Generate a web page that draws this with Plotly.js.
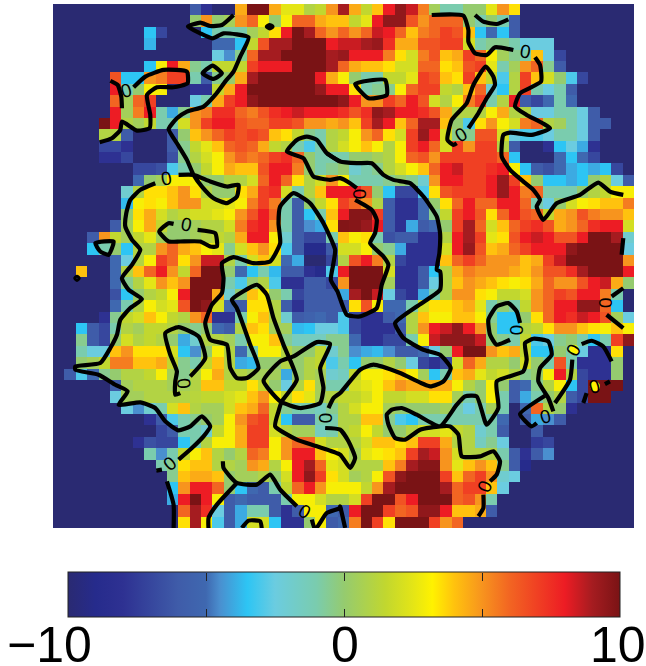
<!DOCTYPE html>
<html><head><meta charset="utf-8">
<script src="https://cdn.plot.ly/plotly-3.0.1.min.js"></script>
<style>html,body{margin:0;padding:0;background:#fff}#chart{width:646px;height:666px}</style>
</head><body><div id="chart"></div>
<script>
const N=-10, COLS=51;
const row=(start,vals)=>{const r=new Array(start).fill(N).concat(vals);while(r.length<COLS)r.push(N);return r;};
const r00=row(12,[-6,-8,N,N,4.5,10,10,4.5,2.5,2.5,1,1.5,5,9,4.5,1.5,4,8,9.5,8.5,5.5,.5,-1,-1,0,0,2.5,5,3.5]);
const r01=row(12,[0,5,0,.5,5,6,3,0,3,6,6,4.5,4,4,1.5,2.5,8,9.5,9.5,6.5,5,6,6,6,0,-1,0,-1,-6]);
const r02=row(8,[-3.5,-7,N,N,N,-3.5,-1,-1,-1,.5,1.5,3.5,8,10,9,6,5,6,5,6,8.5,8,6,4,5.5,6,7,6.5,4,-3.5,-5,-3.5,-6]);
const r03=row(8,[-3.8,N,N,N,N,N,-5,-5,-3.5,1.5,6.5,9,9,10,10,10,8,8.5,8.5,9,9.3,7.5,4.5,4.5,6.5,6.5,7,7,2,-1,-.5,-.5,-1,-2.5,-2.5,-2.5]);
const r04=row(14,[-2.5,-4.5,-.5,6,9,9,10,10,10,10,9,9.3,8,8,8,5.5,3.5,2,5.5,6.5,4,4.5,7,6,3,.5,-.5,-1,4,-2.5,-7]);
const r05=row(8,[-3.5,3,8,4.5,-.5,-1,1.5,1.5,1.5,7,8,8,8,10,10,10,9,6,4.5,4,4,3.5,2,2,6,6,3.5,4,6.5,7,2.5,-1,.5,5,6,-.5,-6]);
const r06=row(5,[6.5,-3.5,-3.5,5,5.5,7,7,-1,-6,-.5,0,4.5,9,10,10,10,10,10,8,4.5,3,0,-1,-1,1.5,1.5,2.5,7,6.5,4,3.5,7,4,1.5,-3,1,7,4,2,0,-3,-7]);
const r07=row(5,[8,-1,0,3,3,N,N,-8,-8,1.5,4.5,8,10,10,10,10,10,10,9.3,8,8,3.5,-1,-.5,-.5,3,6,7,7,1.5,1,4,6,-2,-3.5,1,7,-1,-2.5,-1,-6]);
const r08=row(5,[6,.5,6,7,N,N,N,-2.5,-1,4.5,7,8,9.5,10,10,10,10,10,10,10,9.5,8,5,5,7,6,8,6.5,2,1,3,5.5,7,-1,1,8,-6,-7,-5,-1,-5]);
const r09=row(5,[8,.5,5.5,8,-1,-4,-.5,5,5.5,7.5,7.5,6,5.5,6.5,7.5,8,8.5,8,8,8,7.5,6.5,7.5,9.5,9,8,8,7.5,6.5,4.5,1,1,1,3,4.5,1,1,-2.5,-2.5,-1,-1,-2.5,-6]);
const r10=row(4,[10,8,1,.5,1.5,-1,-1,2,5,7,8,8,6.5,6,6,7,7,6.5,5,5,4.5,5,4,7,9,8,4,6,9,9,4,0,-3,3.5,5,3,2,5.5,6,1,.5,-1,-2.5,-6,-6]);
const r11=row(4,[1,1,-6,N,N,N,-6,0,4,5,6,7,6.5,7,6.5,4,3.5,1.5,-.5,-1,1,1.5,3,5,6,3.5,2,7,9.3,8,2,-.5,-.5,6.5,6.5,2,-2.5,-3,-3,-2.5,-1,-1,-2.5,-6]);
const r12=row(4,[-7,-7,-8,N,N,N,-6,-.5,1.5,2.5,4,6,6.5,6,4.5,1.5,1,-1,-3,-1,1,2,3,4,3,1,3,7,8,6,2,7,5,7,7,1,-6,N,N,-8,-3.5,-2.5,-4,-8]);
const r13=row(4,[-8,-8,-7,N,N,N,-6.5,-.5,1,2,3,5,6,5.5,6,7,7.5,6,0,-1,-1,-1,0,0,.5,1,3,6,6.5,5,7,7,7,7,7,6,-3.5,N,N,N,-5,-3.5,-5,-7]);
const r14=row(7,[-7,-7,-6.5,-3,-1,0,1.5,3,4.5,4,4,6.5,8,8,5.5,0,-1,-.5,0,-2,-1,-.5,1,2,3,4,6,8,8.5,7,7,7.5,8,3,-3.5,-6,-6.5,-5,-4,-3.5,-4,-3.5,-7]);
const r15=row(7,[-5,0,.5,3,3,3,0,0,1,1,2,6,8,6,3.5,1,2,5,3,-1,-1,-1,-.5,0,-.5,-2,5,8,8,7,7,8,9.3,7,4,0,-3.5,-3.5,-4,-3.5,0,1,-2.5,-6]);
const r16=row(6,[-2,1,3.5,3.5,4,5,3.5,1,0,0,3.5,4.5,7,7.5,2,-1,1,4,8,8,8,6.5,0,-3.5,-7,-7,-3,3.5,6.5,7,7,7,8,9.3,8,5.5,6,-1,-1,-1,0,1,1.5,3,3]);
const r17=row(6,[-3.7,3,3.5,3,4,5,5,2,2,2.5,3,5.5,7,5.5,-1,-6,0,1.5,3.5,7,6,5,1,-6,-8,-8,-5,0,3.5,6,8,6,6,8,8,6,-1,-2.5,0,2,3,3.5,4,4,5.5]);
const r18=row(6,[0,3.5,4.5,2,1,1.5,2,2,2.5,3,5,6.5,8,6,-1,-6,-3.5,-1,4,8,9.7,9.7,7,-6,-8,-8,-5,-.5,1.5,7,8,6.5,3.5,6,8,6.5,6,1.5,4.5,5,6.5,5.5,5,5,4]);
const r19=row(5,[-6,.5,3,4.5,1.5,0,0,.5,1,1,2,5.5,7.5,8,5,-1,-6,-4.5,-4,3.5,9.8,9.7,9.3,8,-6,-8,-4,-6,-5,0,7,9,6,2,4,6,7,7.5,6.5,4.5,5,6,7.5,8,8,2]);
const r20=row(3,[-6,5,1.5,.5,1.5,2.5,.5,0,0,.5,1,1.5,1,4.5,8,8,3,-2,-6,-7,-7,-1,4,3,3.5,-1,-6.5,-6,-6,-8,-8,1,8,9,7,2.5,3.5,6.5,8,8.5,8,6.5,6.5,8,10,10,9,-2]);
const r21=row(3,[-3.5,-1,0,-3.5,1,1,5,6,4.5,4,3,2.5,-.5,2,4,5,3.5,-3,-6,-9,-9,-6,2,2,3,0,-.5,-4,-8,-8,-8,2,8,9.3,6.5,4,4.5,6,7,8,8,8,9.5,10,10,10,10,-2.5]);
const r22=row(5,[-5,-2.5,1,3,7,6,3.5,5,8.5,8.5,1,-1,2,4,2,-5,-4,N,N,-7,1,6.5,8,5.5,1,-7,-8,-8,-8,4,6,7,6,5,5,5,4,4.5,7,8.5,10,10,10,10,10,5]);
const r23=row(2,[4,N,N,-5,1,4,6,8,5,1.5,6,10,10,0,-5,-3.5,-1,-3.7,-6,-6,-8,-9,-3,8,10,10,10,2,-8,-8,-6,-3.5,1,4.5,5.5,5,5,5,4.5,4,5,6.5,6.5,7.5,9,10,10,10,8]);
const r24=row(5,[-5,-.5,1,2.5,5,4,5,10,10,10,-1,-3,0,1,-3,-8,-8,-6,-6,-7,5,10,10,10,.5,-8,-8,-6,-2.5,1,4,5,4.5,4,3.5,3,3.5,4.5,6,5,5,6.5,8,8.5,4.5,0]);
const r25=row(5,[-6.5,-3.5,0,1,1.5,3,8,10,10,4.5,-2,0,4,3,0,-1,-7,-6,-6,-6,-4,9,10,8.5,-2.5,-7,-8,-4,-1,1,5,5,3.5,3,1.5,1.5,2,5,6,7,6.5,8,8,5.5,-1]);
const r26=row(5,[-5,-1,1,3,2,2.5,6.5,10,9.5,2,-5,-6,3.5,3.5,1,-6,-8,-6,-6,-6,-6,3.5,6.5,3,-5,-5,-1,2,3.5,3.5,4,4.5,2.5,-1,0,-1,1.5,5,6,8,8,9.5,9.5,6,-3.5]);
const r27=row(4,[-8,-.5,1.5,2,4,3,1.5,1,5,6,-8,-8,-1,3,4,1,-2,-6,-5.5,-5,-6,-3,-7,-8,-8,-6,-5,1,4,3,3,4,4,3,-.5,-3.5,-3.5,0,3.5,6,8,7.5,8.5,8,6.5,.5,-2.5]);
const r28=row(2,[-3.5,-6,-7,-1,1,.5,1.5,1.5,1,0,-.5,0,-5,-6,1,4,3.5,.5,.5,-3.7,-3.5,-2.5,-2.5,-3,-7,-8,-8,-8,-6,1,5,8,8.5,9.5,8,5,0,-3.5,-3.5,1,1.5,3.5,5,5,4,3.5,3,4,3]);
const r29=row(2,[-.5,-6,-7,0,2,1,1.5,1,0,-4,-2,1,1,.5,-1,3,3,4,-.5,-1.5,-1.5,-1.5,-.5,-.5,-5,-8,-8,-7,-7,-1,3,8.5,9.5,9.5,9.5,8.5,0,-.5,-1,1.5,-3,-2.5,-.5,0,-1,-3.5,-1,7,9.5]);
const r30=row(2,[-1,-2.5,-2.5,4,5,3.5,3.5,3.5,2,-3.5,-4.5,0,3,1,-5,-1,3,3,1,0,0,1.5,-2,-.5,-4.5,-4,-3.7,-4.5,-6,-6,-5,-2.5,0,8,10,10,5,4,4.5,1.5,-3.5,-3.5,0,-1,-2.5,-8,-8,3.5]);
const r31=row(2,[0,.5,1.5,5.5,5.5,4,4,4.5,1.5,-.5,-1,1.5,4,1,-4,-3.7,0,0,1,0,1,1.5,-3,-1,-3.5,0,0,1,0,-2.5,-7,-8,-7,2,6,4.5,1,1,0,2,0,-1,6.5,-1,-8,-8,-8,0]);
const r32=row(1,[-6,-3,-5,-.5,0,1,1,1.5,3,.5,-.5,1,3,4.5,1,1,.5,.5,.5,-4,0,1,.5,-2,-1.5,1.5,3,3,3.5,4,3,.5,-3.5,-1,4,4.5,2.5,1.5,2,1,-.5,0,3,8,1,-7,-8,-8,0]);
const r33=row(5,[-6,.5,1,1,1,.5,.5,1,4,4,1.5,1.5,3.5,1.5,0,-2.5,1,3.5,.5,-1,-1,2,2.5,3,4,5,4.5,4.5,4.5,4.5,3,1,0,3,0,-6,-5,-.5,1,3,-3.5,-7,10,10,10]);
const r34=row(5,[-2.5,.5,.5,1,1,1,1,1.2,1.5,1.5,2,2.5,4,5,3,1.5,3.5,2.5,.5,1,1.5,1.5,2,3,1.5,1.5,2,2,3.5,3.5,.5,-1,0,3,-1,-6,-4,-1,0,1,-6,-7,10,10]);
const r35=row(6,[-2.5,-4.5,-2,-1,2,4,1,.5,.5,2,4,4.5,6,1.5,-.5,-1,-1,-1.5,-.5,1,2,3,3,.5,0,0,0,0,.5,-1,-2.5,-1,.5,-1,N,-5,6,1,0,-8]);
const r36=row(8,[-8,-6,-3,-1,-.5,0,.5,3,5,6.5,7,1.5,-3.5,-6,-6,-1,-1,1,1,4,4,-.5,-3,-3.5,-1,-1,-1,-1,-1,-1,-1,-5,N,-6,-4,-4.5,-6]);
const r37=row(9,[-7,-6,-1,-1,-2,1.5,3,4.5,7,7,2,1,.5,.5,-1.5,-1,1,1.5,3,1.5,0,0,1,2,2,2.5,1.5,1,-2,-1,-6,N,N,-6]);
const r38=row(7,[-8,-6.5,-7,-7,-3.5,-1,1,3,3,4.5,7,7,3,5,6,6,2,1,1,1,2,4,4,3.5,4,7,7,4.5,1,1,-1.5,-.5,-2.5,N,N,-7.5,-7]);
const r39=row(8,[-1,-4.5,-1,1.5,3,4,1,0,1,6,5.5,3,5,8,8,4,3,2,.5,2.5,3,3.5,4,7,9,8.5,5,2,1,1,1,-1,-6,-8,-6,-4.5]);
const r40=row(9,[-1,-.5,3.5,4,4,1,1,.5,5,4.5,1,3,8,9,6,2.5,2,1,1,1,4,5.5,9,9.7,9.7,5,2.5,4,5,4,-.5,-6,-9]);
const r41=row(10,[-.5,4,4.5,4.5,4,0,.5,.5,1,0,2,8,9.5,7,3.5,2,.5,1,3,6.5,9.5,10,10,10,7,4,6,7,5,-2,-2.5]);
const r42=row(10,[-3.5,5,8,8,6,0,-3.5,-5,-6,-1,1.5,6,8,5,3,3,3,1.5,5,9,10,10,10,10,9,6,7,7,4,-2.5]);
const r43=row(10,[-4,8,10,8,3,-6,-5,-6,-6,-6,-1,3,3,2,1,1,2,7,10,10,6.5,8,10,10,10,6,6.5,5,-1]);
const r44=row(11,[6,9,7.5,-2.5,-6,-4,-1,-1,-6,-8,-6,3,3,-5,-6,8,10,10,7,6,6.5,9.5,9.5,8,4,4,4.5,-6]);
const r45=row(11,[3.5,9,3,-3,-6,-4,2,2,-3.5,-8,-8,0,3,-6,-5,5.5,10,7,3.5,10,10,10,7,5,6]);
const zValues=[r00,r01,r02,r03,r04,r05,r06,r07,r08,r09,r10,r11,r12,r13,r14,r15,r16,r17,r18,r19,r20,r21,r22,r23,r24,r25,r26,r27,r28,r29,r30,r31,r32,r33,r34,r35,r36,r37,r38,r39,r40,r41,r42,r43,r44,r45];

// map readings taken quadrant by quadrant onto cell indices
const C=34.2, quad=(ox,oy)=>pts=>pts.map(([a,b])=>[(a+ox)/C-.5,(b+oy)/C-.5]);
const TL=quad(-38,-12),TR=quad(862,-12),BL=quad(-38,783),BR=quad(862,783);

const contourLines=[
 TL([[580,45],[545,75],[510,78],[480,68],[443,80],[480,100],[517,115],[550,100],[625,112],[600,170],[580,215],[555,245],[525,285],[490,320],[440,335],[410,355],[385,388],[410,430],[440,480],[460,525],[485,560],[520,595],[560,610],[590,590],[595,555],[560,560],[510,545],[460,525],[415,525]]),
 [...TL([[345,550],[300,570],[270,600],[258,640],[255,680],[275,720],[300,750],[275,795]]),...BL([[245,40],[265,75],[305,103],[270,130],[240,165],[230,210],[210,250],[180,295],[105,305],[105,315],[175,330],[225,360],[262,380],[235,420],[300,413],[345,430],[375,470],[415,497],[450,485],[485,455],[510,485],[490,515],[455,550],[415,585]])],
 BL([[365,615],[348,618]]),
 BL([[380,650],[400,720],[400,795]]),
 TL([[210,243],[232,255],[243,290],[245,325]]),
 TL([[280,262],[315,230],[370,210],[440,215],[442,250],[400,262],[350,262],[320,285],[330,345],[328,385],[290,392],[245,365],[240,390],[215,415],[178,427]]),
 TL([[487,220],[517,197],[545,220],[520,237],[487,220]]),
 TL([[680,80],[688,75],[697,80],[688,85],[680,80]]),
 TL([[165,730],[220,725],[205,765],[180,755],[165,730]]),
 TL([[400,672],[385,670],[357,695],[385,725],[420,725],[480,725],[510,740],[530,740],[525,700],[472,690]]),
 [...TL([[900,485],[860,460],[830,420],[800,410],[770,420],[740,455],[790,475],[820,530],[870,540]]),...TR([[0,535],[30,550],[50,565]])],
 [...TL([[860,460],[900,485]]),...TR([[50,490],[95,490],[130,525],[160,540],[210,550],[250,590],[290,650],[300,700],[298,760],[290,810]]),...BR([[300,20],[300,75],[230,125],[165,175],[190,220],[250,255],[300,270],[332,310],[310,350],[270,365],[180,325],[100,300],[60,315],[0,385]]),...BL([[880,400],[865,430]])],
 [...BL([[855,490],[900,495]]),...BR([[25,530],[45,580],[30,610],[0,570]]),...BL([[830,545],[770,525],[705,485],[715,440],[725,410],[770,345],[730,240],[700,160],[680,90],[650,60],[575,105],[590,130],[630,240],[655,310],[620,340],[590,340],[570,310],[560,240],[510,225],[495,175],[515,120],[545,85],[550,40]]),...TL([[545,790],[580,772],[640,790],[690,785],[720,730],[715,670],[720,620],[760,580],[810,610],[850,670],[885,750],[880,790]]),...BL([[872,45],[892,80]]),...BR([[20,150],[60,155],[110,130],[125,60],[145,0]]),...TR([[130,770],[90,730],[105,700],[110,660],[95,630],[45,600]])],
 BL([[670,348],[720,290],[760,275],[830,232],[870,238],[840,310],[850,370],[840,415],[780,430],[720,410],[670,348]]),
 BL([[450,335],[495,280],[475,215],[415,187],[375,205],[390,270],[410,320],[405,350],[405,390],[420,385]]),
 BL([[548,590],[550,610],[590,655],[650,660],[690,630],[720,675],[770,725]]),
 [...BL([[815,765],[825,795],[860,745],[900,730]]),...BR([[0,725],[15,790]])],
 BL([[590,655],[530,720],[505,760],[505,795]]),
 BL([[605,790],[625,768],[660,770],[665,795]]),
 BL([[105,40],[110,36],[115,40],[110,45],[105,40]]),
 BR([[450,650],[470,630],[480,590],[460,560],[420,575],[365,575],[355,510],[330,485],[300,485],[240,495],[195,525],[165,520],[145,480],[140,450],[155,435],[185,430],[230,450],[300,485],[350,420],[375,395],[410,395],[440,480],[475,430],[470,350],[550,320],[560,285],[555,235],[580,222],[625,230],[635,270],[600,310],[595,350],[625,400],[640,440]]),
 BR([[430,690],[430,730],[415,755]]),
 BR([[645,415],[690,345],[697,285]]),
 BR([[615,393],[540,448],[575,485],[590,475]]),
 BR([[725,238],[755,228],[790,245],[815,290]]),
 BR([[810,350],[795,358]]),
 BR([[740,385],[730,415]]),
 BR([[850,70],[815,95]]),
 BR([[800,150],[850,190]]),
 BR([[510,225],[470,240],[450,210],[445,165],[470,125],[505,115],[530,140],[540,175]]),
 TR([[275,45],[370,47],[385,90],[385,125],[405,160],[440,165],[465,142],[520,150]]),
 TR([[585,172],[600,195],[603,245],[540,280],[525,320],[560,345],[630,385],[575,405],[510,398],[490,405],[485,470],[510,510],[550,545],[580,570],[600,600],[590,620],[610,660],[650,610],[720,585],[775,548],[810,575],[850,585]]),
 TR([[405,45],[430,65],[470,72],[505,58]]),
 TR([[385,385],[415,340],[440,295],[465,255],[460,230],[437,200],[400,255],[380,310],[335,360],[322,420],[340,435],[350,430]]),
 TR([[45,252],[135,240],[140,285],[85,295],[45,252]]),
 TR([[850,715],[845,765]])
];

const labelPoints=[...TL([[258,272],[378,537],[438,675]]),...TR([[555,155],[365,405],[57,582]]),...BL([[430,357],[390,598],[857,462],[792,742]]),...BR([[530,197],[435,667],[617,455],[702,255],[765,365],[797,115]])];
const labelAngles=[-15,-10,10,10,-30,90,85,-40,90,30,90,-65,-15,-60,-15,90];
const yellowLabelSpots=BR([[702,255],[765,365]]);

const colorStops=[[-10,'#2a2a72'],[-9,'#262b8c'],[-8,'#2e3192'],[-6,'#3f5ca9'],[-5,'#3f68b0'],[-4.5,'#4a8fcf'],[-3.5,'#2dc5f4'],[-2.5,'#6bcce0'],[-1,'#7accae'],[0,'#95cb6f'],[1.5,'#c1d72f'],[2.5,'#e4e516'],[3.2,'#fff200'],[4,'#ffc20e'],[5,'#f7941e'],[6,'#f26522'],[7,'#f04023'],[8,'#ed1c24'],[9,'#a51c20'],[10,'#7a1315']];
const tickValues=[-10,-5,0,5,10];
const barLabels=['\u221210','0','10'];

const plotW=581.4, plotL=52.7, plotB=528.4, plotH=524.4;
const px=v=>(v-plotL)/plotW, py=v=>(plotB-v)/plotH;
const barLabelX=[93,344.5,618], barLabelAnchor=['right','center','center'];

const heat={type:'heatmap',z:zValues,zmin:-10,zmax:10,zsmooth:false,hoverinfo:'skip',
 colorscale:colorStops.map(([v,c])=>[(v+10)/20,c]),
 colorbar:{orientation:'h',x:px(344),xanchor:'center',y:py(572),yanchor:'top',
  lenmode:'pixels',len:552,thicknessmode:'pixels',thickness:45,xpad:0,ypad:0,
  outlinewidth:1,outlinecolor:'#222',borderwidth:0,
  tickmode:'array',tickvals:tickValues,showticklabels:false,ticks:'inside',ticklen:8,tickwidth:1,tickcolor:'#222'}};
const lineTraces=contourLines.map(seg=>({type:'scatter',mode:'lines',x:seg.map(p=>p[0]),y:seg.map(p=>p[1]),
 line:{color:'#000',width:4.2,shape:'spline',smoothing:.5},hoverinfo:'skip',showlegend:false}));
const spotTrace={type:'scatter',mode:'markers',x:yellowLabelSpots.map(p=>p[0]),y:yellowLabelSpots.map(p=>p[1]),
 marker:{color:'#fff200',size:10,line:{width:0}},hoverinfo:'skip',showlegend:false};

const zeroLabels=labelPoints.map((p,i)=>({xref:'x',yref:'y',x:p[0],y:p[1],text:'0',showarrow:false,textangle:labelAngles[i],
  font:{family:'Liberation Sans',size:19,color:'#000'},xanchor:'center',yanchor:'middle'}));
const barTextLabels=barLabels.map((t,i)=>({xref:'paper',yref:'paper',x:px(barLabelX[i]),y:py(645),text:t,showarrow:false,
  font:{family:'Liberation Sans',size:50,color:'#000'},xanchor:barLabelAnchor[i],yanchor:'middle',borderpad:0}));
const topTicks=[206.6,344.6,482.6].map(v=>({xref:'paper',yref:'paper',x:px(v),y:py(573),yanchor:'top',xanchor:'center',text:' ',font:{size:1},showarrow:false,
  width:1,height:8,bgcolor:'#222',borderpad:0,borderwidth:0}));

Plotly.newPlot('chart',[heat,...lineTraces,spotTrace],{
 width:646,height:666,paper_bgcolor:'#fff',plot_bgcolor:'#fff',showlegend:false,
 margin:{l:plotL,r:646-plotL-plotW,t:4,b:666-plotB,pad:0,autoexpand:false},
 xaxis:{visible:false,range:[-.5,50.5],fixedrange:true},
 yaxis:{visible:false,range:[45.5,-.5],fixedrange:true},
 annotations:[...zeroLabels,...barTextLabels,...topTicks]
},{displayModeBar:false,staticPlot:true});
</script></body></html>
